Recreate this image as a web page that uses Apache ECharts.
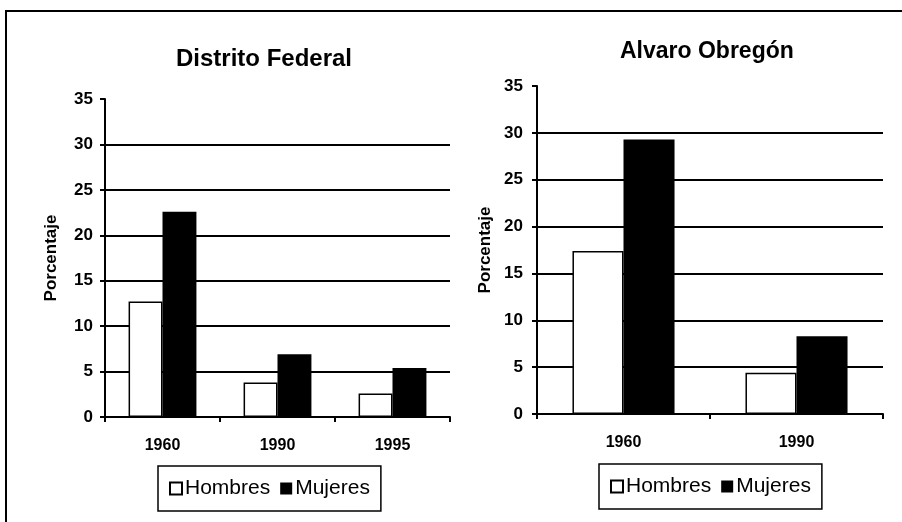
<!DOCTYPE html>
<html>
<head>
<meta charset="utf-8">
<script src="https://cdn.jsdelivr.net/npm/echarts@6/dist/echarts.min.js"></script>
<style>
html, body { margin: 0; padding: 0; background: #fff; }
#main { width: 902px; height: 522px; }
</style>
</head>
<body>
<div id="main"></div>
<script>
// Distrito Federal
var yearsDF = ['1960', '1990', '1995'];
var hombresDF = [12.7, 3.8, 2.6];
var mujeresDF = [22.6, 6.9, 5.4];
// Alvaro Obregon
var yearsAO = ['1960', '1990'];
var hombresAO = [17.4, 4.4];
var mujeresAO = [29.3, 8.3];
// eje y
var yMin = 0, yMax = 35, yStep = 5;

var font = '"Liberation Sans", Arial, sans-serif';
var black = '#000';

function makeY(idx, gap, margin) {
  return {
    type: 'value',
    gridIndex: idx,
    min: yMin,
    max: yMax,
    interval: yStep,
    name: 'Porcentaje',
    nameLocation: 'middle',
    nameGap: gap,
    nameTextStyle: { color: black, fontSize: 17, fontWeight: 'bold', fontFamily: font },
    axisLine: { show: true, lineStyle: { color: black, width: 2 } },
    axisTick: { show: true, length: 5, lineStyle: { color: black, width: 2 } },
    axisLabel: { margin: margin, color: black, fontSize: 17, fontWeight: 'bold', fontFamily: font },
    splitLine: { show: true, showMaxLine: false, lineStyle: { color: black, width: 2 } }
  };
}

function makeX(idx, data, margin) {
  return {
    type: 'category',
    gridIndex: idx,
    data: data,
    boundaryGap: true,
    axisLine: { lineStyle: { color: black, width: 2 } },
    axisTick: { show: true, length: 5, lineStyle: { color: black, width: 2 } },
    axisLabel: { margin: margin, color: black, fontSize: 16, fontWeight: 'bold', fontFamily: font }
  };
}

function makeBars(idx, name, data) {
  var men = name === 'Hombres';
  return {
    name: name,
    type: 'bar',
    xAxisIndex: idx,
    yAxisIndex: idx,
    barGap: 0,
    barCategoryGap: '41%',
    itemStyle: men ? { color: '#fff', borderColor: black, borderWidth: 1.5 } : { color: black },
    emphasis: { disabled: true },
    data: data
  };
}

function makeLegend(left, top) {
  return {
    left: left,
    top: top,
    orient: 'horizontal',
    data: ['Hombres', 'Mujeres'],
    icon: 'rect',
    itemWidth: 12,
    itemHeight: 12,
    itemGap: 10,
    padding: [12, 11],
    borderColor: black,
    borderWidth: 1.5,
    selectedMode: false,
    textStyle: { color: black, fontSize: 21, fontFamily: font, padding: [0, 0, 0, -2] }
  };
}

var chart = echarts.init(document.getElementById('main'), null, { renderer: 'canvas' });
chart.setOption({
  animation: false,
  backgroundColor: '#fff',
  title: [
    { text: 'Distrito Federal', left: 176, top: 47, padding: 0,
      textStyle: { color: black, fontSize: 24, fontWeight: 'bold', fontFamily: font } },
    { text: 'Alvaro Obregón', left: 620, top: 40, padding: 0,
      textStyle: { color: black, fontSize: 23, fontWeight: 'bold', fontFamily: font } }
  ],
  legend: [makeLegend(158, 466), makeLegend(599, 464)],
  grid: [
    { left: 105, top: 99, right: 452, bottom: 105 },
    { left: 537, top: 86, right: 19, bottom: 108 }
  ],
  xAxis: [makeX(0, yearsDF, 21), makeX(1, yearsAO, 21)],
  yAxis: [makeY(0, 45, 12), makeY(1, 43, 14)],
  series: [
    makeBars(0, 'Hombres', hombresDF),
    makeBars(0, 'Mujeres', mujeresDF),
    makeBars(1, 'Hombres', hombresAO),
    makeBars(1, 'Mujeres', mujeresAO)
  ],
  // marco de la hoja
  graphic: [{
    type: 'polyline',
    silent: true,
    shape: { points: [[6, 522], [6, 11], [902, 11]] },
    style: { stroke: black, lineWidth: 2, fill: null }
  }]
});
</script>
</body>
</html>
